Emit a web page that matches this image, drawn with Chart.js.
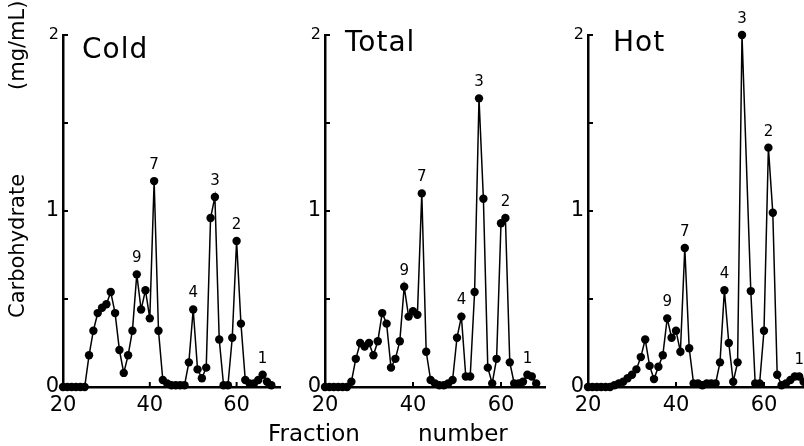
<!DOCTYPE html>
<html>
<head>
<meta charset="utf-8">
<script src="https://cdn.jsdelivr.net/npm/chart.js@4.4.1/dist/chart.umd.min.js"></script>
<style>
  html, body { margin: 0; padding: 0; background: #fff; overflow: hidden; }
  #wrap { position: relative; width: 804px; height: 446px; overflow: hidden; background: #fff; }
  canvas { position: absolute; top: 0; }
</style>
</head>
<body>
<div id="wrap">
  <canvas id="cold" width="290" height="446" style="left:0px"></canvas>
  <canvas id="total" width="300" height="446" style="left:250px"></canvas>
  <canvas id="hot" width="290" height="446" style="left:533px"></canvas>
</div>
<script>
// data (fraction number -> carbohydrate mg/mL)
const coldFractions = [20,21,22,23,24,25,26,27,28,29,30,31,32,33,34,35,36,37,38,39,40,41,42,43,44,45,46,47,48,49,50,51,52,53,54,55,56,57,58,59,60,61,62,63,64,65,66,67,68];
const coldValues = [0,0,0,0,0,0,0.18,0.32,0.42,0.45,0.47,0.54,0.42,0.21,0.08,0.18,0.32,0.64,0.44,0.55,0.39,1.17,0.32,0.04,0.02,0.01,0.01,0.01,0.01,0.14,0.44,0.10,0.05,0.11,0.96,1.08,0.27,0.01,0.01,0.28,0.83,0.36,0.04,0.02,0.02,0.04,0.07,0.03,0.01];

const totalFractions = [20,21,22,23,24,25,26,27,28,29,30,31,32,33,34,35,36,37,38,39,40,41,42,43,44,45,46,47,48,49,50,51,52,53,54,55,56,57,58,59,60,61,62,63,64,65,66,67,68];
const totalValues = [0,0,0,0,0,0,0.03,0.16,0.25,0.23,0.25,0.18,0.26,0.42,0.36,0.11,0.16,0.26,0.57,0.40,0.43,0.41,1.10,0.20,0.04,0.02,0.01,0.01,0.02,0.04,0.28,0.40,0.06,0.06,0.54,1.64,1.07,0.11,0.02,0.16,0.93,0.96,0.14,0.02,0.02,0.03,0.07,0.06,0.02];

const hotFractions = [20,21,22,23,24,25,26,27,28,29,30,31,32,33,34,35,36,37,38,39,40,41,42,43,44,45,46,47,48,49,50,51,52,53,54,55,57,58,59,60,61,62,63,64,65,66,67,68,69];
const hotValues = [0,0,0,0,0,0,0.01,0.02,0.03,0.05,0.07,0.10,0.17,0.27,0.12,0.045,0.115,0.18,0.39,0.28,0.32,0.20,0.79,0.22,0.02,0.02,0.01,0.02,0.02,0.02,0.14,0.55,0.25,0.03,0.14,2.00,0.545,0.02,0.02,0.32,1.36,0.99,0.07,0.01,0.02,0.04,0.06,0.06,0.03];

// peak numbers: fraction where the label sits, and its text
const coldPeakAt = [37,41,50,55,60,66];
const coldPeakText = ['9','7','4','3','2','1'];
const totalPeakAt = [38,42,51,55,61,66];
const totalPeakText = ['9','7','4','3','2','1'];
const hotPeakAt = [38,42,51,55,61,68];
const hotPeakText = ['9','7','4','3','2','1'];

const xTicks = [20, 40, 60];
const yTicks = [0, 1, 2];
const yMinorTicks = [0.5, 1.5];

const FONT = '"DejaVu Sans", sans-serif';

// axis tick marks (inward), panel titles, peak numbers, axis titles
const panelDeco = {
  id: 'panelDeco',
  afterDraw(chart, args, o) {
    const ctx = chart.ctx;
    const xs = chart.scales.x, ys = chart.scales.y;
    const area = chart.chartArea;
    ctx.save();
    ctx.strokeStyle = '#000';
    ctx.lineWidth = 2;
    xTicks.forEach(v => {
      const px = xs.getPixelForValue(v);
      ctx.beginPath(); ctx.moveTo(px, area.bottom); ctx.lineTo(px, area.bottom - 5); ctx.stroke();
    });
    yTicks.concat(yMinorTicks).forEach(v => {
      if (v === 0) return;
      const py = ys.getPixelForValue(v);
      ctx.beginPath(); ctx.moveTo(area.left, py); ctx.lineTo(area.left + 5, py); ctx.stroke();
    });

    ctx.fillStyle = '#000';
    // panel title
    ctx.font = '28px ' + FONT;
    ctx.letterSpacing = '1px';
    ctx.textAlign = 'left';
    ctx.textBaseline = 'middle';
    ctx.fillText(o.title, area.left + o.titleDx, o.titleY);
    ctx.letterSpacing = '0px';

    // peak numbers
    const meta = chart.getDatasetMeta(0);
    const fr = chart.data.datasets[0].data.map(d => d.x);
    ctx.font = '15px ' + FONT;
    ctx.textAlign = 'center';
    o.peakAt.forEach((f, i) => {
      const el = meta.data[fr.indexOf(f)];
      if (el) ctx.fillText(o.peakText[i], el.x, el.y - 16);
    });

    if (o.yTitle) {
      ctx.save();
      ctx.translate(19, 0);
      ctx.rotate(-Math.PI / 2);
      ctx.font = '21px ' + FONT;
      ctx.textAlign = 'left';
      ctx.textBaseline = 'middle';
      ctx.fillText('Carbohydrate', -318, 0);
      ctx.fillText('(mg/mL)', -90, 0);
      ctx.restore();
    }
    if (o.xTitle) {
      ctx.font = '23px ' + FONT;
      ctx.textAlign = 'left';
      ctx.textBaseline = 'middle';
      const off = chart.canvas.offsetLeft;
      ctx.fillText('Fraction', 268 - off, 435);
      ctx.fillText('number', 418 - off, 435);
    }
    ctx.restore();
  }
};

function makePanel(id, fractions, values, deco, yWidth, padRight) {
  const pts = fractions.map((f, i) => ({ x: f, y: values[i] }));
  return new Chart(document.getElementById(id).getContext('2d'), {
    type: 'line',
    data: {
      datasets: [{
        data: pts,
        borderColor: '#000',
        borderWidth: 1.5,
        backgroundColor: '#000',
        pointBackgroundColor: '#000',
        pointBorderColor: '#000',
        pointRadius: 4.2,
        pointBorderWidth: 0,
        tension: 0,
        clip: false
      }]
    },
    options: {
      responsive: false,
      animation: false,
      events: [],
      layout: { padding: { top: 35, right: padRight, left: 0, bottom: 0 } },
      plugins: { legend: { display: false }, tooltip: { enabled: false }, panelDeco: deco },
      scales: {
        x: {
          type: 'linear', min: 20, max: 70,
          afterBuildTicks: s => { s.ticks = xTicks.map(v => ({ value: v })); },
          afterFit: s => { s.height = 59; },
          grid: { display: false, drawTicks: false },
          border: { display: true, color: '#000', width: 2.5 },
          ticks: { color: '#000', padding: 6, maxRotation: 0, font: { family: FONT, size: 21 } }
        },
        y: {
          min: 0, max: 2,
          afterBuildTicks: s => { s.ticks = yTicks.map(v => ({ value: v })); },
          afterFit: s => { s.width = yWidth; },
          grid: { display: false, drawTicks: false },
          border: { display: true, color: '#000', width: 2.5 },
          ticks: {
            color: '#000', padding: 4,
            font: c => ({ family: FONT, size: (c.tick && c.tick.value === 2) ? 16 : 21 })
          }
        }
      }
    },
    plugins: [panelDeco]
  });
}

makePanel('cold', coldFractions, coldValues,
  { title: 'Cold', titleDx: 19, titleY: 51, peakAt: coldPeakAt, peakText: coldPeakText, yTitle: true }, 63, 10);
makePanel('total', totalFractions, totalValues,
  { title: 'Total', titleDx: 20, titleY: 44, peakAt: totalPeakAt, peakText: totalPeakText, xTitle: true }, 75, 5);
makePanel('hot', hotFractions, hotValues,
  { title: 'Hot', titleDx: 25, titleY: 44, peakAt: hotPeakAt, peakText: hotPeakText }, 55, 15);
</script>
</body>
</html>
